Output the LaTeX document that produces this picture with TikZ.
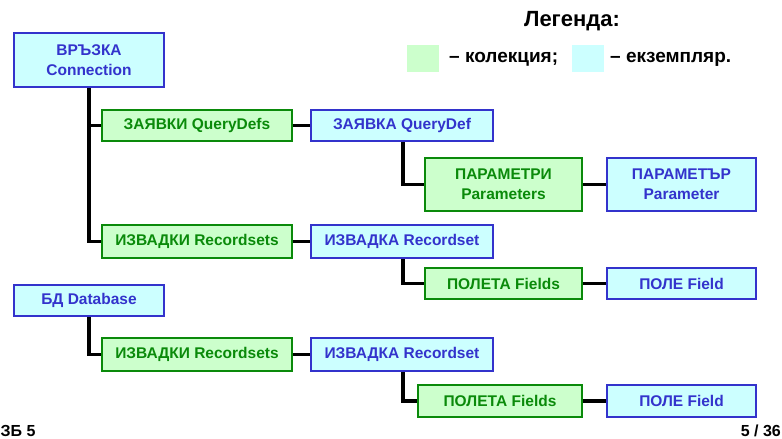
\documentclass[tikz,border=0pt]{standalone}
\usepackage{fontspec}
\setmainfont{Liberation Sans}
\definecolor{collfill}{HTML}{CCFFCC}
\definecolor{colldraw}{HTML}{0A8A0A}
\definecolor{instfill}{HTML}{CCFFFF}
\definecolor{instdraw}{HTML}{3333CC}
\tikzset{
  box/.style={rectangle, line width=1.6pt, inner sep=0pt, align=center, font=\bfseries\fontsize{15.5}{20}\selectfont},
  coll/.style={box, fill=collfill, draw=colldraw, text=colldraw},
  inst/.style={box, fill=instfill, draw=instdraw, text=instdraw},
  conn/.style={line width=3.5pt, black},
  legtext/.style={font=\bfseries\fontsize{19}{22}\selectfont, anchor=west, inner sep=0pt},
}
\newcommand{\bx}[7]{\node[#1, minimum width={#4-#3}, minimum height={#6-#5}] (#2) at ({(#3+#4)/2},{(#5+#6)/2+1}) {#7};}
\begin{document}
\begin{tikzpicture}[x=1pt,y=-1pt]
\useasboundingbox (0,0) rectangle (782,439);
% legend
\node[font=\bfseries\fontsize{22}{26}\selectfont, inner sep=0pt] (legt) at (572,21) {Легенда:};
\node[fill=collfill, minimum width=32, minimum height=27, inner sep=0pt] (lg) at (423,58.5) {};
\node[legtext] (lgt) at (449,59) {– колекция;};
\node[fill=instfill, minimum width=32, minimum height=27, inner sep=0pt] (lc) at (588,58.5) {};
\node[legtext] (lct) at (610,59) {– екземпляр.};
% connectors
\coordinate (tx) at (89,0);
\coordinate (sx) at (403,0);
% boxes
\bx{inst}{con}{14}{164}{32}{86}{ВРЪЗКА\\Connection}
\bx{coll}{qds}{102}{292}{109}{140}{ЗАЯВКИ QueryDefs}
\bx{inst}{qd}{311}{493}{109}{140}{ЗАЯВКА QueryDef}
\bx{coll}{pars}{425}{582}{157}{210}{ПАРАМЕТРИ\\Parameters}
\bx{inst}{par}{607}{756}{157}{210}{ПАРАМЕТЪР\\Parameter}
\bx{coll}{rss}{102}{292}{224}{257}{ИЗВАДКИ Recordsets}
\bx{inst}{rs}{311}{493}{224}{257}{ИЗВАДКА Recordset}
\bx{coll}{fds}{425}{582}{267}{298}{ПОЛЕТА Fields}
\bx{inst}{fd}{607}{756}{267}{298}{ПОЛЕ Field}
\bx{inst}{db}{14}{164}{284}{315}{БД Database}
\bx{coll}{rssb}{102}{292}{337}{370}{ИЗВАДКИ Recordsets}
\bx{inst}{rsb}{311}{493}{337}{370}{ИЗВАДКА Recordset}
\bx{coll}{fdsb}{418}{582}{384}{416}{ПОЛЕТА Fields}
\bx{inst}{fdb}{607}{756}{384}{416}{ПОЛЕ Field}
\draw[conn] (con.south -| tx) |- (qds.west);
\draw[conn] (con.south -| tx) |- (rss.west);
\draw[conn] (qds.east) -- (qd.west);
\draw[conn] (qd.south -| sx) |- (pars.west);
\draw[conn] (pars.east) -- (par.west);
\draw[conn] (rss.east) -- (rs.west);
\draw[conn] (rs.south -| sx) |- (fds.west);
\draw[conn] (fds.east) -- (fd.west);
\draw[conn] (db.south -| tx) |- (rssb.west);
\draw[conn] (rssb.east) -- (rsb.west);
\draw[conn] (rsb.south -| sx) |- (fdsb.west);
\draw[conn] (fdsb.east) -- (fdb.west);
% footer
\node[font=\bfseries\fontsize{16}{18}\selectfont, anchor=west, inner sep=0pt] (fl) at (0.5,431) {ЗБ 5};
\node[font=\bfseries\fontsize{16}{18}\selectfont, anchor=east, inner sep=0pt] (fr) at (781,431) {5 / 36};
\end{tikzpicture}
\end{document}
